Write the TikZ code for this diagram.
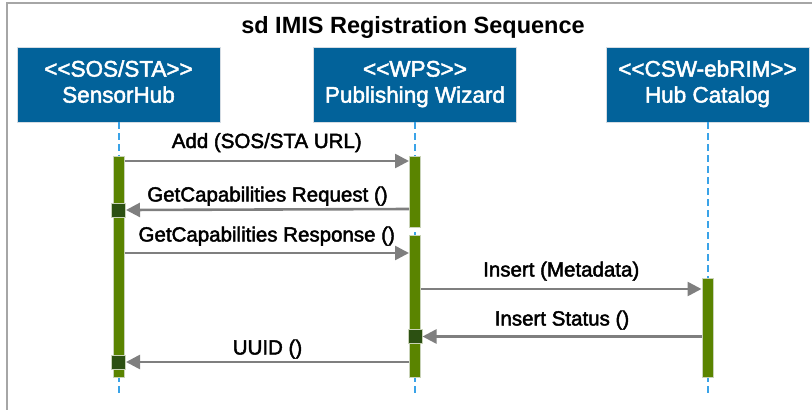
\documentclass[tikz,border=0pt]{standalone}
\usepackage{fontspec}
\setmainfont{Liberation Sans}
\newfontfamily\medfont[FakeBold=2.2]{Liberation Sans}
\usetikzlibrary{arrows.meta}
\definecolor{hdrblue}{HTML}{02629A}
\definecolor{hdredge}{HTML}{D5DCE3}
\definecolor{barfill}{HTML}{5A8400}
\definecolor{baredge}{HTML}{C9D3B8}
\definecolor{sqfill}{HTML}{2C5012}
\definecolor{msggrey}{HTML}{7F7F7F}
\definecolor{lifeblue}{HTML}{3AA3E8}
\definecolor{framegrey}{HTML}{A6A6A6}
\begin{document}
\begin{tikzpicture}[x=1pt,y=-1pt,
  actor/.style={draw=hdredge, line width=0.8pt, fill=hdrblue,
    minimum width=203pt, minimum height=75pt, inner sep=0pt},
  hdrtext/.style={anchor=base, inner sep=0pt, text=white,
    font=\medfont\fontsize{22.5}{26}\selectfont},
  lifeline/.style={draw=lifeblue, line width=2pt, dash pattern=on 7pt off 4pt},
  actbar/.style={draw=baredge, line width=1pt, fill=barfill, minimum width=11pt,
    inner sep=0pt},
  selfsq/.style={draw=baredge, line width=1pt, fill=sqfill, minimum width=14pt,
    minimum height=14pt, inner sep=0pt},
  msg/.style={draw=msggrey, line width=2.6pt,
    -{Triangle[length=14pt,width=14pt]}},
  lbl/.style={anchor=base, inner sep=0pt, font=\medfont\fontsize{20.5}{24}\selectfont}
]
\useasboundingbox (0,0) rectangle (812,410);

% outer frame
\draw[framegrey, line width=1.6pt] (7,420) -- (7,3) -- (820,3);

% title
\node[anchor=base, inner sep=0pt, font=\bfseries\fontsize{23.5}{27}\selectfont]
  (title) at (413,33) {sd IMIS Registration Sequence};

% participants
\node[actor] (sh)  at (118.5,84.5) {};
\node[actor] (wps) at (415,84.5)   {};
\node[actor] (csw) at (707.5,84.5) {};
\node[hdrtext] (sh-st)  at ([yshift=-30pt]sh.north)  {<<SOS/STA>>};
\node[hdrtext] (sh-nm)  at ([yshift=-56pt]sh.north)  {SensorHub};
\node[hdrtext] (wps-st) at ([yshift=-30pt]wps.north) {<<WPS>>};
\node[hdrtext] (wps-nm) at ([yshift=-56pt]wps.north) {Publishing Wizard};
\node[hdrtext] (csw-st) at ([yshift=-30pt]csw.north) {<<CSW-ebRIM>>};
\node[hdrtext] (csw-nm) at ([yshift=-56pt]csw.north) {Hub Catalog};

% lifelines
\coordinate (bottom) at (0,397);
\draw[lifeline] (sh.south)  -- (sh.south |- bottom);
\draw[lifeline] (wps.south) -- (wps.south |- bottom);
\draw[lifeline] (csw.south) -- (csw.south |- bottom);

% activation bars
\node[actbar, minimum height=221pt] (shb)   at (118.5,266.5) {};
\node[actbar, minimum height=71pt]  (wpsa)  at (415,191.5) {};
\node[actbar, minimum height=142pt] (wpsb)  at (415,306) {};
\node[actbar, minimum height=99pt]  (cswb)  at (707.5,327.5) {};

% return markers
\node[selfsq] (sq1) at (118.5,210) {};
\node[selfsq] (sq2) at (118.5,362) {};
\node[selfsq] (sq3) at (415,336.5) {};

% message rows
\coordinate (m1) at (0,161);
\coordinate (m2) at (0,209);
\coordinate (m3) at (0,253);
\coordinate (m4) at (0,289);
\coordinate (m5) at (0,336.5);
\coordinate (m6) at (0,362);

\draw[msg] (shb.east |- m1) -- node[lbl, yshift=13pt] {Add (SOS/STA URL)} (wpsa.west |- m1);
\draw[msg] (wpsa.west |- m2) -- node[lbl, yshift=8pt] {GetCapabilities Request ()} (sq1.east);
\draw[msg] (shb.east |- m3) -- node[lbl, yshift=11.5pt] {GetCapabilities Response ()} (wpsb.west |- m3);
\draw[msg] (wpsb.east |- m4) -- node[lbl, yshift=12.5pt] {Insert (Metadata)} (cswb.west |- m4);
\draw[msg] (cswb.west |- m5) -- node[lbl, yshift=11pt] {Insert Status ()} (sq3.east);
\draw[msg] (wpsb.west |- m6) -- node[lbl, yshift=7.5pt] {UUID ()} (sq2.east);
\end{tikzpicture}
\end{document}
